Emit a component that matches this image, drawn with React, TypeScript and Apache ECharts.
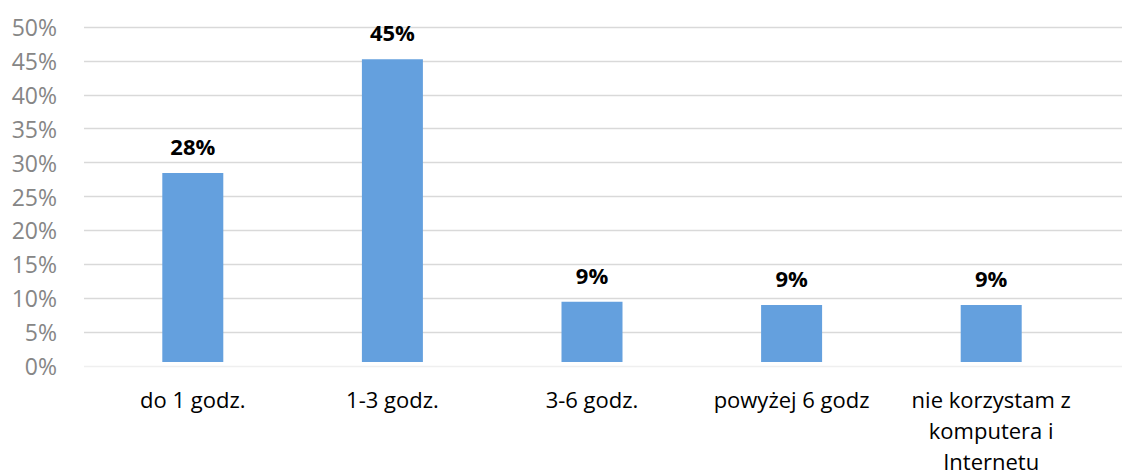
import React, { useEffect, useRef } from "react";
import * as echarts from "echarts";

const categories = [
  "do 1 godz.",
  "1-3 godz.",
  "3-6 godz.",
  "powyżej 6 godz",
  "nie korzystam z\nkomputera i\nInternetu",
];
const values = [28.2, 45.2, 9.0, 8.5, 8.5];
const yMin = 0;
const yMax = 50;
const yStep = 5;

const FONT = "'Open Sans', sans-serif";

export default function App() {
  const ref = useRef<HTMLDivElement>(null);
  useEffect(() => {
    if (!ref.current) return;
    const chart = echarts.init(ref.current, undefined, { renderer: "svg" });
    const gridColors = Array.from({ length: 11 }, (_, i) => (i === 0 ? "#efefef" : "#d9d9d9"));
    chart.setOption({
      animation: false,
      backgroundColor: "#ffffff",
      grid: [
        { left: 93, right: 31, top: 27, bottom: 110 },
        { left: 84, right: 0, top: 27, bottom: 110 },
      ],
      xAxis: [
        {
          type: "category",
          gridIndex: 0,
          data: categories,
          axisLine: { show: false },
          axisTick: { show: false },
          axisLabel: {
            interval: 0,
            fontFamily: FONT,
            fontSize: 22,
            color: "#000000",
            lineHeight: 31,
            margin: 21,
          },
        },
        {
          type: "category",
          gridIndex: 1,
          data: categories,
          show: false,
        },
      ],
      yAxis: [
        {
          type: "value",
          gridIndex: 0,
          min: yMin,
          max: yMax,
          interval: yStep,
          show: false,
          splitLine: { show: false },
        },
        {
          type: "value",
          gridIndex: 1,
          min: yMin,
          max: yMax,
          interval: yStep,
          axisLine: { show: false },
          axisTick: { show: false },
          axisLabel: {
            formatter: "{value}%",
            fontFamily: FONT,
            fontSize: 23,
            color: "#868686",
            margin: 27,
          },
          splitLine: { show: true, lineStyle: { color: gridColors, width: 1.3 } },
        },
      ],
      series: [
        {
          type: "bar",
          xAxisIndex: 0,
          yAxisIndex: 0,
          data: values,
          barWidth: 61,
          itemStyle: { color: "#64a0de" },
          label: {
            show: true,
            position: "top",
            distance: 16,
            formatter: (p: any) => `${Math.round(p.value)}%`,
            fontFamily: FONT,
            fontSize: 22,
            fontWeight: "bold",
            color: "#000000",
          },
        },
      ],
    });
    return () => chart.dispose();
  }, []);
  return (
    <div
      ref={ref}
      style={{ position: "absolute", left: 0, top: 0, width: 1122, height: 476 }}
    />
  );
}
